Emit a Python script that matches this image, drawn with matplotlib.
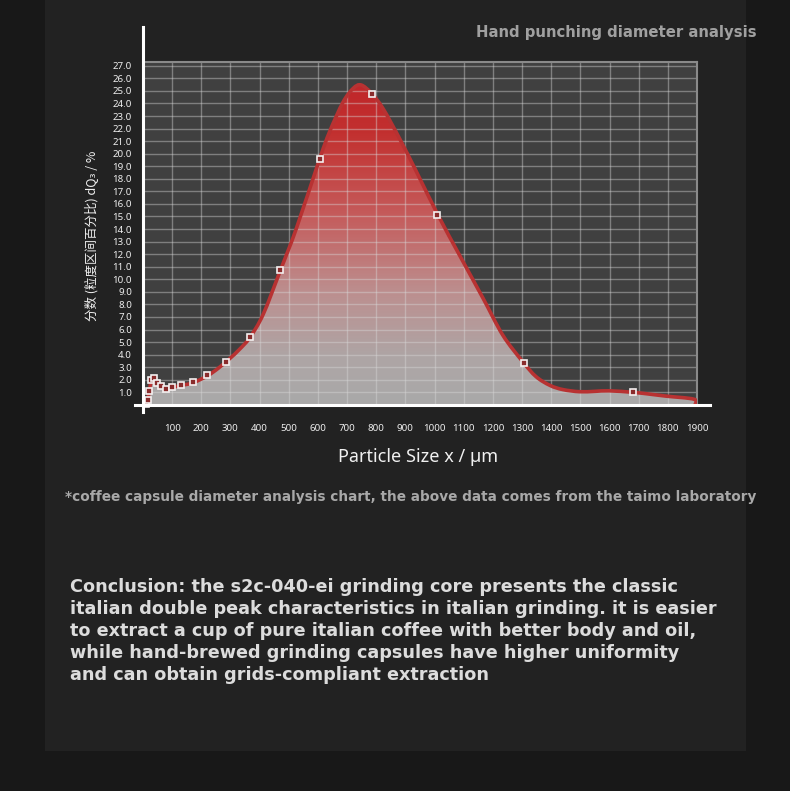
import numpy as np
import matplotlib
matplotlib.use('Agg')
import matplotlib.pyplot as plt
from matplotlib.colors import LinearSegmentedColormap
from matplotlib.lines import Line2D
from matplotlib.path import Path
from matplotlib.patches import PathPatch

# points mesurés (carrés blancs)
taille_points = [10, 16, 22, 26, 38, 48, 62, 80, 101, 132, 170, 220, 284, 366,
                 471, 608, 784, 1010, 1305, 1681]
pourcent_points = [0.1, 0.4, 1.1, 2.0, 2.15, 1.75, 1.5, 1.25, 1.45, 1.6, 1.8, 2.4,
                   3.45, 5.4, 10.75, 19.6, 24.75, 15.1, 3.3, 1.0]

# courbe lissée
taille_courbe = [0, 5, 10, 16, 22, 28, 38, 48, 62, 80, 100, 130, 170, 220, 260, 298,
                 330, 366, 412, 471, 526, 606, 640, 686, 721, 748, 784, 823, 880,
                 937, 1012, 1086, 1166, 1234, 1302, 1348, 1396, 1440, 1497, 1550,
                 1599, 1681, 1740, 1793, 1890, 1893]
pourcent_courbe = [0.0, 0.05, 0.15, 0.45, 1.1, 1.9, 2.1, 1.8, 1.5, 1.3, 1.4, 1.55,
                   1.75, 2.3, 2.95, 3.7, 4.4, 5.35, 7.2, 10.7, 14.05, 19.6, 21.75,
                   24.1, 25.2, 25.47, 24.8, 23.6, 21.2, 18.6, 15.1, 11.9, 8.5, 5.55,
                   3.45, 2.25, 1.55, 1.22, 1.05, 1.08, 1.12, 1.0, 0.85, 0.7, 0.45, 0.0]

y_ticks = [1.0, 2.0, 3.0, 4.0, 5.0, 6.0, 7.0, 8.0, 9.0, 10.0, 11.0, 12.0, 13.0, 14.0,
           15.0, 16.0, 17.0, 18.0, 19.0, 20.0, 21.0, 22.0, 23.0, 24.0, 25.0, 26.0, 27.0]
x_ticks = [100, 200, 300, 400, 500, 600, 700, 800, 900, 1000, 1100, 1200, 1300,
           1400, 1500, 1600, 1700, 1800, 1900]

titre = 'Hand punching diameter analysis'
label_x = 'Particle Size x / µm'
label_y = '分数 (粒度区间百分比) dQ₃ / %'
note = ('*coffee capsule diameter analysis chart, the above data comes from '
        'the taimo laboratory')
conclusion = ['Conclusion: the s2c-040-ei grinding core presents the classic',
              'italian double peak characteristics in italian grinding. it is easier',
              'to extract a cup of pure italian coffee with better body and oil,',
              'while hand-brewed grinding capsules have higher uniformity',
              'and can obtain grids-compliant extraction']

W, H = 790, 791


def px(x, y):
    """pixels -> fraction de figure"""
    return x / W, 1 - y / H


def chemin_lisse(xs, ys, fermer=False):
    """Chemin de Bézier (Catmull-Rom) passant par les points lus."""
    p = np.column_stack([xs, ys]).astype(float)
    n = len(p)
    verts = [p[0]]
    codes = [Path.MOVETO]
    for i in range(n - 1):
        a = p[max(i - 1, 0)]
        b = p[i]
        c = p[i + 1]
        d = p[min(i + 2, n - 1)]
        verts += [b + (c - a) / 6, c - (d - b) / 6, c]
        codes += [Path.CURVE4] * 3
    if fermer:
        verts += [(xs[0], 0), (xs[0], 0)]
        codes += [Path.LINETO, Path.CLOSEPOLY]
    return Path(verts, codes)


def main():
    fig = plt.figure(figsize=(W / 100, H / 100), dpi=100)
    fig.patch.set_facecolor('#181818')

    # panneau central un peu plus clair
    fond = fig.add_axes([45 / W, 1 - 751 / H, 701 / W, 751 / H])
    fond.set_facecolor('#222222')
    fond.set_xticks([])
    fond.set_yticks([])
    for s in fond.spines.values():
        s.set_visible(False)
    fond.set_zorder(-1)

    x0, x1 = 143, 697
    y0, y1 = 62, 404.9
    xmax = 1900 * (x1 - x0) / (698 - 143)
    ax = fig.add_axes([x0 / W, 1 - y1 / H, (x1 - x0) / W, (y1 - y0) / H])
    ax.set_facecolor('#404040')

    # remplissage dégradé rouge -> gris
    cmap = LinearSegmentedColormap.from_list('rg', [
        (0.0, '#a9a9a9'), (0.15, '#aea5a5'), (0.35, '#bc8f8f'),
        (0.6, '#c55a5a'), (0.85, '#c2302f'), (1.0, '#c0262a')])
    grad = np.linspace(0, 1, 256).reshape(-1, 1)
    img = ax.imshow(grad, cmap=cmap, origin='lower', aspect='auto',
                    extent=[0, 1900, 0, 25.5], zorder=1)
    img.set_clip_path(PathPatch(chemin_lisse(taille_courbe, pourcent_courbe, True),
                                transform=ax.transData, fc='none', ec='none'))
    ax.set_xlim(0, xmax)
    ax.set_ylim(0, 27.3)

    # grille
    for v in x_ticks:
        ax.axvline(v, color='#d8d8d8', lw=1.0, alpha=0.42, zorder=2)
    for v in y_ticks:
        ax.axhline(v, color='#d8d8d8', lw=1.0, alpha=0.42, zorder=2)
    for s in ['top', 'right']:
        ax.spines[s].set_color('#8a8a8a')
        ax.spines[s].set_linewidth(1.5)
    for s in ['left', 'bottom']:
        ax.spines[s].set_visible(False)

    ax.add_patch(PathPatch(chemin_lisse(taille_courbe, pourcent_courbe),
                           fc='none', ec='#b83232', lw=2.6, joinstyle='round',
                           capstyle='round', zorder=3))
    ax.plot(taille_points, pourcent_points, ls='none', marker='s', ms=5,
            mfc='#8a2c2c', mec='#f4f0f0', mew=1.2, zorder=4, clip_on=False)

    ax.set_yticks(y_ticks)
    ax.set_yticklabels(['%.1f' % v for v in y_ticks])
    ax.set_xticks(x_ticks)
    ax.set_xticklabels([str(v) for v in x_ticks])
    ax.tick_params(length=0, colors='#eeeeee', labelsize=7, pad=8)
    ax.tick_params(axis='x', pad=14)
    for t in ax.get_xticklabels() + ax.get_yticklabels():
        t.set_family('Noto Sans')

    # axes blancs qui dépassent
    fig.add_artist(Line2D([x0 / W, x0 / W], [1 - 412 / H, 1 - 27 / H],
                          color='white', lw=2.2))
    fig.add_artist(Line2D([135 / W, 710 / W], [1 - 404.5 / H, 1 - 404.5 / H],
                          color='white', lw=2.2))

    fig.text(*px(418, 457), label_x, color='#f0f0f0', fontsize=13,
             family='Noto Sans', ha='center', va='center')
    fig.text(*px(92, 236), label_y, color='#f0f0f0', fontsize=9, rotation=90,
             family=['Noto Sans CJK SC', 'DejaVu Sans'], ha='center', va='center')

    fig.text(*px(757, 33), titre, color='#a0a0a0', fontsize=10.7,
             family='DejaVu Sans', weight='bold', ha='right', va='center')
    fig.text(*px(411, 497), note, color='#a8a8a8', fontsize=9.85,
             family='DejaVu Sans', weight='bold', ha='center', va='center')
    for i, ligne in enumerate(conclusion):
        fig.text(*px(70, 587 + 22 * i), ligne, color='#dcdcdc', fontsize=12.7,
                 family='DejaVu Sans', weight='bold', ha='left', va='center')

    fig.savefig('out.png', dpi=100, facecolor=fig.get_facecolor())


if __name__ == '__main__':
    main()
